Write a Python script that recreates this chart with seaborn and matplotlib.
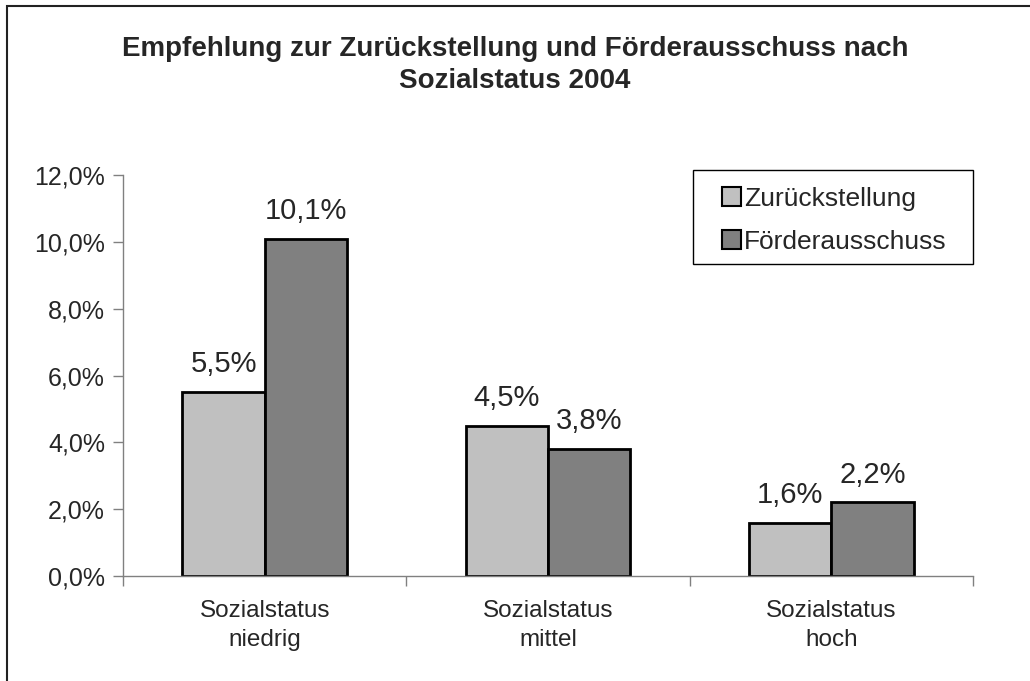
import matplotlib
matplotlib.use("Agg")
import matplotlib.pyplot as plt
import matplotlib.patches as mpatches
import seaborn as sns
import pandas as pd
from matplotlib.ticker import FuncFormatter, FixedLocator

# Data
categories = ["Sozialstatus\nniedrig", "Sozialstatus\nmittel", "Sozialstatus\nhoch"]
series_names = ["Zurückstellung", "Förderausschuss"]
zurueckstellung = [5.5, 4.5, 1.6]
foerderausschuss = [10.1, 3.8, 2.2]
colors = ["#C0C0C0", "#808080"]

df = pd.DataFrame({
    "Kategorie": categories * 2,
    "Serie": [series_names[0]] * 3 + [series_names[1]] * 3,
    "Wert": zurueckstellung + foerderausschuss,
})

sns.set_style("white")
plt.rcParams["font.family"] = ["Liberation Sans", "DejaVu Sans"]

fig = plt.figure(figsize=(10.3, 6.81), dpi=100)
ax = fig.add_axes([0.1194, 0.1542, 0.8253, 0.5888])

sns.barplot(data=df, x="Kategorie", y="Wert", hue="Serie", palette=colors,
            width=0.58, edgecolor="black", linewidth=2, ax=ax, legend=True)

# value labels
for cont in ax.containers:
    ax.bar_label(cont, labels=[f"{v:.1f}%".replace(".", ",") for v in cont.datavalues],
                 padding=10, fontsize=21)

ax.set_xlim(-0.5, 2.5)
ax.set_ylim(0, 12)
ax.yaxis.set_major_locator(FixedLocator([0, 2, 4, 6, 8, 10, 12]))
ax.yaxis.set_major_formatter(FuncFormatter(lambda v, p: f"{v:.1f}%".replace(".", ",")))
ax.set_xlabel("")
ax.set_ylabel("")

# category boundary ticks, labels at centers via minor ticks
ax.set_xticks([-0.5, 0.5, 1.5, 2.5])
ax.set_xticklabels([])
ax.set_xticks([0, 1, 2], minor=True)
ax.set_xticklabels(categories, minor=True, fontsize=17.5, linespacing=1.45)
ax.tick_params(axis="x", which="major", direction="out", length=7, width=1, color="#808080", bottom=True)
ax.tick_params(axis="x", which="minor", length=0, pad=17)
ax.tick_params(axis="y", direction="out", length=7, width=1, color="#808080", left=True, labelsize=18, pad=6)

for side in ["top", "right"]:
    ax.spines[side].set_visible(False)
for side in ["left", "bottom"]:
    ax.spines[side].set_color("#808080")
    ax.spines[side].set_linewidth(1)

# legend without its own frame, box drawn separately
leg = ax.legend(loc="upper left", bbox_to_anchor=(0.7047, 0.971), fontsize=19, frameon=False,
                handlelength=0.72, handleheight=0.7, handletextpad=0.12,
                borderpad=0, labelspacing=0.72, borderaxespad=0)
for h in leg.legend_handles:
    h.set_linewidth(1.5)
ax.add_patch(mpatches.Rectangle((0.6706, 0.778), 0.3294, 0.2344, transform=ax.transAxes,
                                fill=False, edgecolor="black", linewidth=1, clip_on=False))

fig.suptitle("Empfehlung zur Zurückstellung und Förderausschuss nach\nSozialstatus 2004",
             y=0.947, fontsize=20, fontweight="bold", linespacing=1.3)

# outer chart border (frame of the chart area, right/bottom run off the image)
fig.patches.append(mpatches.Rectangle((0.007, -0.02), 1.0, 1.0105, transform=fig.transFigure,
                                      fill=False, edgecolor="#222222", linewidth=1.5,
                                      clip_on=False))

fig.savefig("out.png", dpi=100, facecolor="white")
